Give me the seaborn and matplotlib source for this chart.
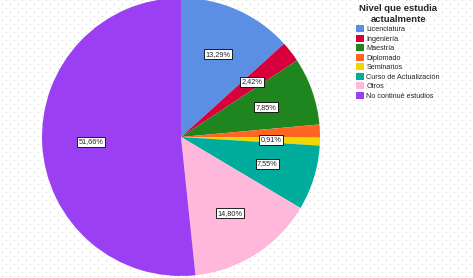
import numpy as np
import matplotlib
matplotlib.use("Agg")
import matplotlib.pyplot as plt
import seaborn as sns

sns.set_style("white")
plt.rcParams['font.family'] = ['Liberation Sans', 'DejaVu Sans']

# datos
categorias = ["Licenciatura", "Ingeniería", "Maestría", "Diplomado", "Seminarios",
              "Curso de Actualización", "Otros", "No continué estudios"]
porcentajes = [13.29, 2.42, 7.85, 1.52, 0.91, 7.55, 14.80, 51.66]
etiquetas = ["13,29%", "2,42%", "7,85%", "", "0,91%", "7,55%", "14,80%", "51,66%"]
colores = sns.color_palette(["#5b8fe3", "#d8003c", "#1f851f", "#ff6420", "#f2d600",
                             "#00ad9c", "#ffb8dc", "#9a40f2"])

fig = plt.figure(figsize=(4.73, 2.78), dpi=100)

# fondo punteado
bg = fig.add_axes([0, 0, 1, 1], zorder=0)
gx, gy = np.meshgrid(np.arange(2, 473, 8), np.arange(2, 278, 8))
bg.scatter(gx.ravel(), gy.ravel(), s=0.6, color="#c8c8c8", linewidths=0)
bg.scatter(gx.ravel() + 4, gy.ravel() + 4, s=0.6, color="#c8c8c8", linewidths=0)
bg.set_xlim(0, 473)
bg.set_ylim(0, 278)
bg.axis("off")

ax = fig.add_axes([42 / 473, 2 / 278, 278 / 473, 278 / 278], zorder=1)
wedges, _ = ax.pie(porcentajes, colors=colores, startangle=90, counterclock=False,
                   radius=1, wedgeprops=dict(linewidth=0))
for w, lab in zip(wedges, etiquetas):
    if not lab:
        continue
    ang = np.deg2rad((w.theta1 + w.theta2) / 2)
    d = 0.65
    ax.text(d * np.cos(ang), d * np.sin(ang), lab, ha="center", va="center", fontsize=5.3,
            bbox=dict(boxstyle="square,pad=0.2", fc="white", ec="black", lw=0.6))
ax.set_xlim(-1, 1)
ax.set_ylim(-1, 1)
ax.set_aspect("equal")
ax.axis("off")

handles = [plt.Rectangle((0, 0), 1, 1, fc=c, ec="none") for c in colores]
leg = fig.legend(handles, categorias, loc="upper left", bbox_to_anchor=(352 / 473, 1.0),
                 frameon=False, fontsize=5.2, handlelength=1.1, handleheight=1.1,
                 handletextpad=0.3, labelspacing=0.22, borderaxespad=0.2)
leg.set_title("Nivel que estudia\nactualmente", prop={"size": 6.8, "weight": "bold"})
leg._legend_box.align = "center"
leg.get_title().set_multialignment("center")

fig.savefig("out.png", dpi=100)
